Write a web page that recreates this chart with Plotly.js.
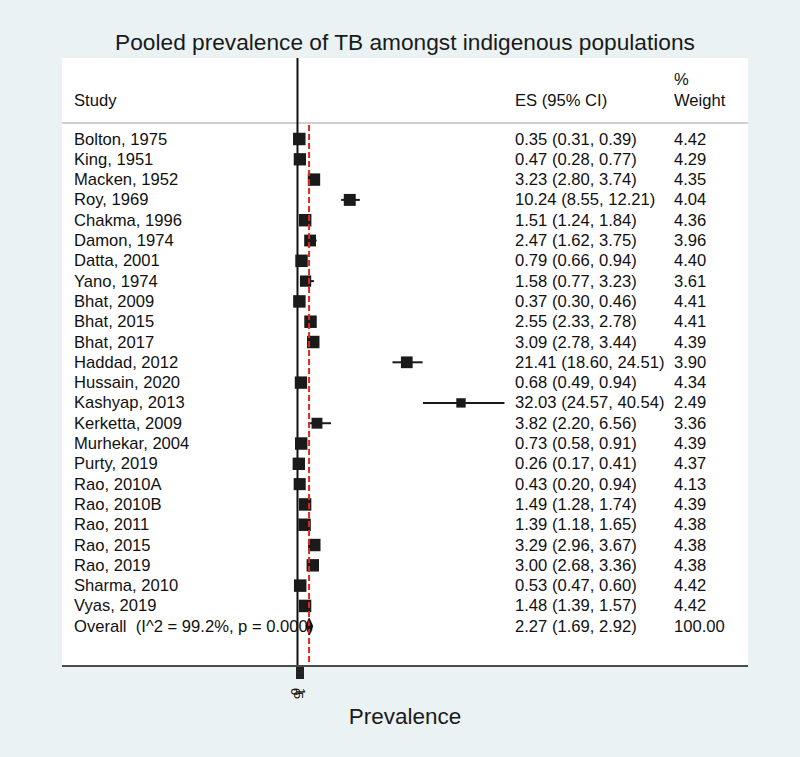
<!DOCTYPE html>
<html>
<head>
<meta charset="utf-8">
<script src="https://cdn.plot.ly/plotly-3.0.1.min.js"></script>
<style>
  html, body { margin: 0; padding: 0; background: #EAF2F3; }
  #chart { width: 800px; height: 757px; }
</style>
</head>
<body>
<div id="chart"></div>
<script>
// ---- data ----
const studies = ["Bolton, 1975", "King, 1951", "Macken, 1952", "Roy, 1969", "Chakma, 1996",
  "Damon, 1974", "Datta, 2001", "Yano, 1974", "Bhat, 2009", "Bhat, 2015", "Bhat, 2017",
  "Haddad, 2012", "Hussain, 2020", "Kashyap, 2013", "Kerketta, 2009", "Murhekar, 2004",
  "Purty, 2019", "Rao, 2010A", "Rao, 2010B", "Rao, 2011", "Rao, 2015", "Rao, 2019",
  "Sharma, 2010", "Vyas, 2019"];
const es = [0.35, 0.47, 3.23, 10.24, 1.51, 2.47, 0.79, 1.58, 0.37, 2.55, 3.09, 21.41, 0.68,
  32.03, 3.82, 0.73, 0.26, 0.43, 1.49, 1.39, 3.29, 3.00, 0.53, 1.48];
const ciLow = [0.31, 0.28, 2.80, 8.55, 1.24, 1.62, 0.66, 0.77, 0.30, 2.33, 2.78, 18.60, 0.49,
  24.57, 2.20, 0.58, 0.17, 0.20, 1.28, 1.18, 2.96, 2.68, 0.47, 1.39];
const ciHigh = [0.39, 0.77, 3.74, 12.21, 1.84, 3.75, 0.94, 3.23, 0.46, 2.78, 3.44, 24.51, 0.94,
  40.54, 6.56, 0.91, 0.41, 0.94, 1.74, 1.65, 3.67, 3.36, 0.60, 1.57];
const weights = [4.42, 4.29, 4.35, 4.04, 4.36, 3.96, 4.40, 3.61, 4.41, 4.41, 4.39, 3.90, 4.34,
  2.49, 3.36, 4.39, 4.37, 4.13, 4.39, 4.38, 4.38, 4.38, 4.42, 4.42];
const overallLabel = "Overall  (I^2 = 99.2%, p = 0.000)";
const overallEs = 2.27, overallLow = 1.69, overallHigh = 2.92, overallWeight = 100.00;
const tickValues = [0, 0.5, 1];
const tickLabels = ["0", ".5", "1"];
const titleText = "Pooled prevalence of TB amongst indigenous populations";
const xTitle = "Prevalence";

// ---- build ----
const n = studies.length;
const rows = studies.map((_, i) => i);
const overallRow = n;
const font = "Liberation Sans, Arial, Helvetica, sans-serif";
const txtSize = 16.6;

const traces = [];
traces.push({
  type: "scatter", mode: "markers",
  x: es, y: rows,
  marker: {
    symbol: "square", color: "#1a1a1a", opacity: 1,
    size: weights.map(w => 12.5 * Math.sqrt(w / 4.42)),
    line: { width: 0 }
  },
  error_x: {
    type: "data", symmetric: false,
    array: es.map((v, i) => ciHigh[i] - v),
    arrayminus: es.map((v, i) => v - ciLow[i]),
    width: 0, thickness: 2, color: "#1a1a1a"
  },
  hoverinfo: "skip", showlegend: false
});

const dh = 0.38;
traces.push({
  type: "scatter", mode: "lines",
  x: [overallLow, overallEs, overallHigh, overallEs, overallLow],
  y: [overallRow, overallRow - dh, overallRow, overallRow + dh, overallRow],
  fill: "toself", fillcolor: "#2a0c0c",
  line: { color: "#1a1a1a", width: 1.5 },
  hoverinfo: "skip", showlegend: false
});

// text columns (paper x)
const colStudy = (72 - 62) / 686, colEs = (513 - 62) / 686, colW = (672 - 62) / 686;
const ann = [];
function addText(x, y, t) {
  ann.push({ xref: "paper", yref: "y", x: x, y: y, text: t, showarrow: false,
    xanchor: "left", yanchor: "middle", font: { family: font, size: txtSize, color: "#111" } });
}
addText(colStudy, -1.92, "Study");
addText(colEs, -1.92, "ES (95% CI)");
addText(colW, -2.92, "%");
addText(colW, -1.92, "Weight");
studies.forEach((s, i) => {
  addText(colStudy, i, s);
  addText(colEs, i, es[i].toFixed(2) + " (" + ciLow[i].toFixed(2) + ", " + ciHigh[i].toFixed(2) + ")");
  addText(colW, i, weights[i].toFixed(2));
});
addText(colStudy, overallRow, overallLabel);
addText(colEs, overallRow, overallEs.toFixed(2) + " (" + overallLow.toFixed(2) + ", " + overallHigh.toFixed(2) + ")");
addText(colW, overallRow, overallWeight.toFixed(2));

const yTop = -3.99, yBottom = 25.91;
const shapes = [
  { type: "line", xref: "paper", yref: "y", x0: 0, x1: 1, y0: -0.79, y1: -0.79,
    line: { color: "#cfcfcf", width: 2 }, layer: "below" },
  { type: "line", xref: "x", yref: "paper", x0: 0, x1: 0, y0: 0, y1: 1,
    line: { color: "#111", width: 2 }, layer: "below" },
  { type: "line", xref: "x", yref: "y", x0: overallEs, x1: overallEs, y0: -0.69, y1: yBottom,
    line: { color: "#e3261f", width: 2, dash: "6px,3px" }, layer: "above" }
];

const layout = {
  width: 800, height: 757,
  margin: { l: 62, r: 52, t: 58, b: 92 },
  paper_bgcolor: "#EAF2F3", plot_bgcolor: "#ffffff",
  title: { text: titleText, x: 0.5, xref: "paper", y: 1 - 42 / 757, yref: "container",
    yanchor: "middle", font: { family: font, size: 22.7, color: "#1a1a1a" } },
  xaxis: {
    range: [-46.13, 88.25], showgrid: false, zeroline: false,
    showline: true, linecolor: "#4a4a4a", linewidth: 2,
    ticks: "outside", ticklen: 12, tickwidth: 3, tickcolor: "#222",
    tickvals: tickValues, ticktext: tickLabels,
    tickfont: { family: font, size: 13, color: "#111" },
    title: { text: xTitle, standoff: 10, font: { family: font, size: 22.5, color: "#1a1a1a" } },
    fixedrange: true
  },
  yaxis: { range: [yBottom, yTop], visible: false, showgrid: false, zeroline: false, fixedrange: true },
  shapes: shapes,
  annotations: ann,
  showlegend: false
};

Plotly.newPlot("chart", traces, layout, { displayModeBar: false, staticPlot: true });
</script>
</body>
</html>
